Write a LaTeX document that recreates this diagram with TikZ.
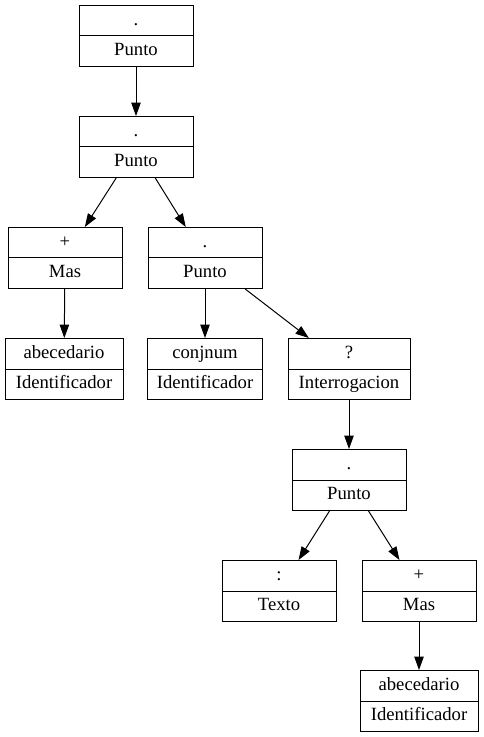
\documentclass[tikz,border=0pt]{standalone}
\usepackage{fontspec}
\setmainfont{Liberation Serif}
\usetikzlibrary{arrows.meta,shapes.multipart}

\begin{document}
\begin{tikzpicture}[x=0.75pt, y=-0.75pt,
    rec/.style={draw, line width=0.75pt, rectangle split, rectangle split parts=2,
        minimum width=85.5pt, inner xsep=3pt, inner ysep=2.55pt,
        font=\fontsize{14}{17}\selectfont},
    edge/.style={line width=0.75pt, -{Triangle[length=10pt, width=7pt]}}]
    \useasboundingbox (0,0) rectangle (483,737);

    % Record nodes (symbol / token)
    \node[rec] (p1) at (136,36) {\strut.\nodepart{two}\strut Punto};
    \node[rec] (p2) at (136,147) {\strut.\nodepart{two}\strut Punto};
    \node[rec] (m1) at (65,258) {\strut+\nodepart{two}\strut Mas};
    \node[rec] (p3) at (205,258) {\strut.\nodepart{two}\strut Punto};
    \node[rec, minimum width=88.5pt] (id1) at (64,369) {\strut abecedario\nodepart{two}\strut Identificador};
    \node[rec, minimum width=86.25pt] (id2) at (205,369) {\strut conjnum\nodepart{two}\strut Identificador};
    \node[rec, minimum width=91.5pt] (q) at (349,369) {\strut ?\nodepart{two}\strut Interrogacion};
    \node[rec] (p4) at (349,480) {\strut.\nodepart{two}\strut Punto};
    \node[rec] (t) at (279,591) {\strut:\nodepart{two}\strut Texto};
    \node[rec] (m2) at (419,591) {\strut+\nodepart{two}\strut Mas};
    \node[rec, minimum width=88.5pt] (id3) at (419,701) {\strut abecedario\nodepart{two}\strut Identificador};

    % Edges
    \foreach \a/\b in {p1/p2, p2/m1, p2/p3, m1/id1, p3/id2, p3/q, q/p4, p4/t, p4/m2, m2/id3} {
        \draw[edge] (\a) -- (\b);
    }
\end{tikzpicture}
\end{document}
